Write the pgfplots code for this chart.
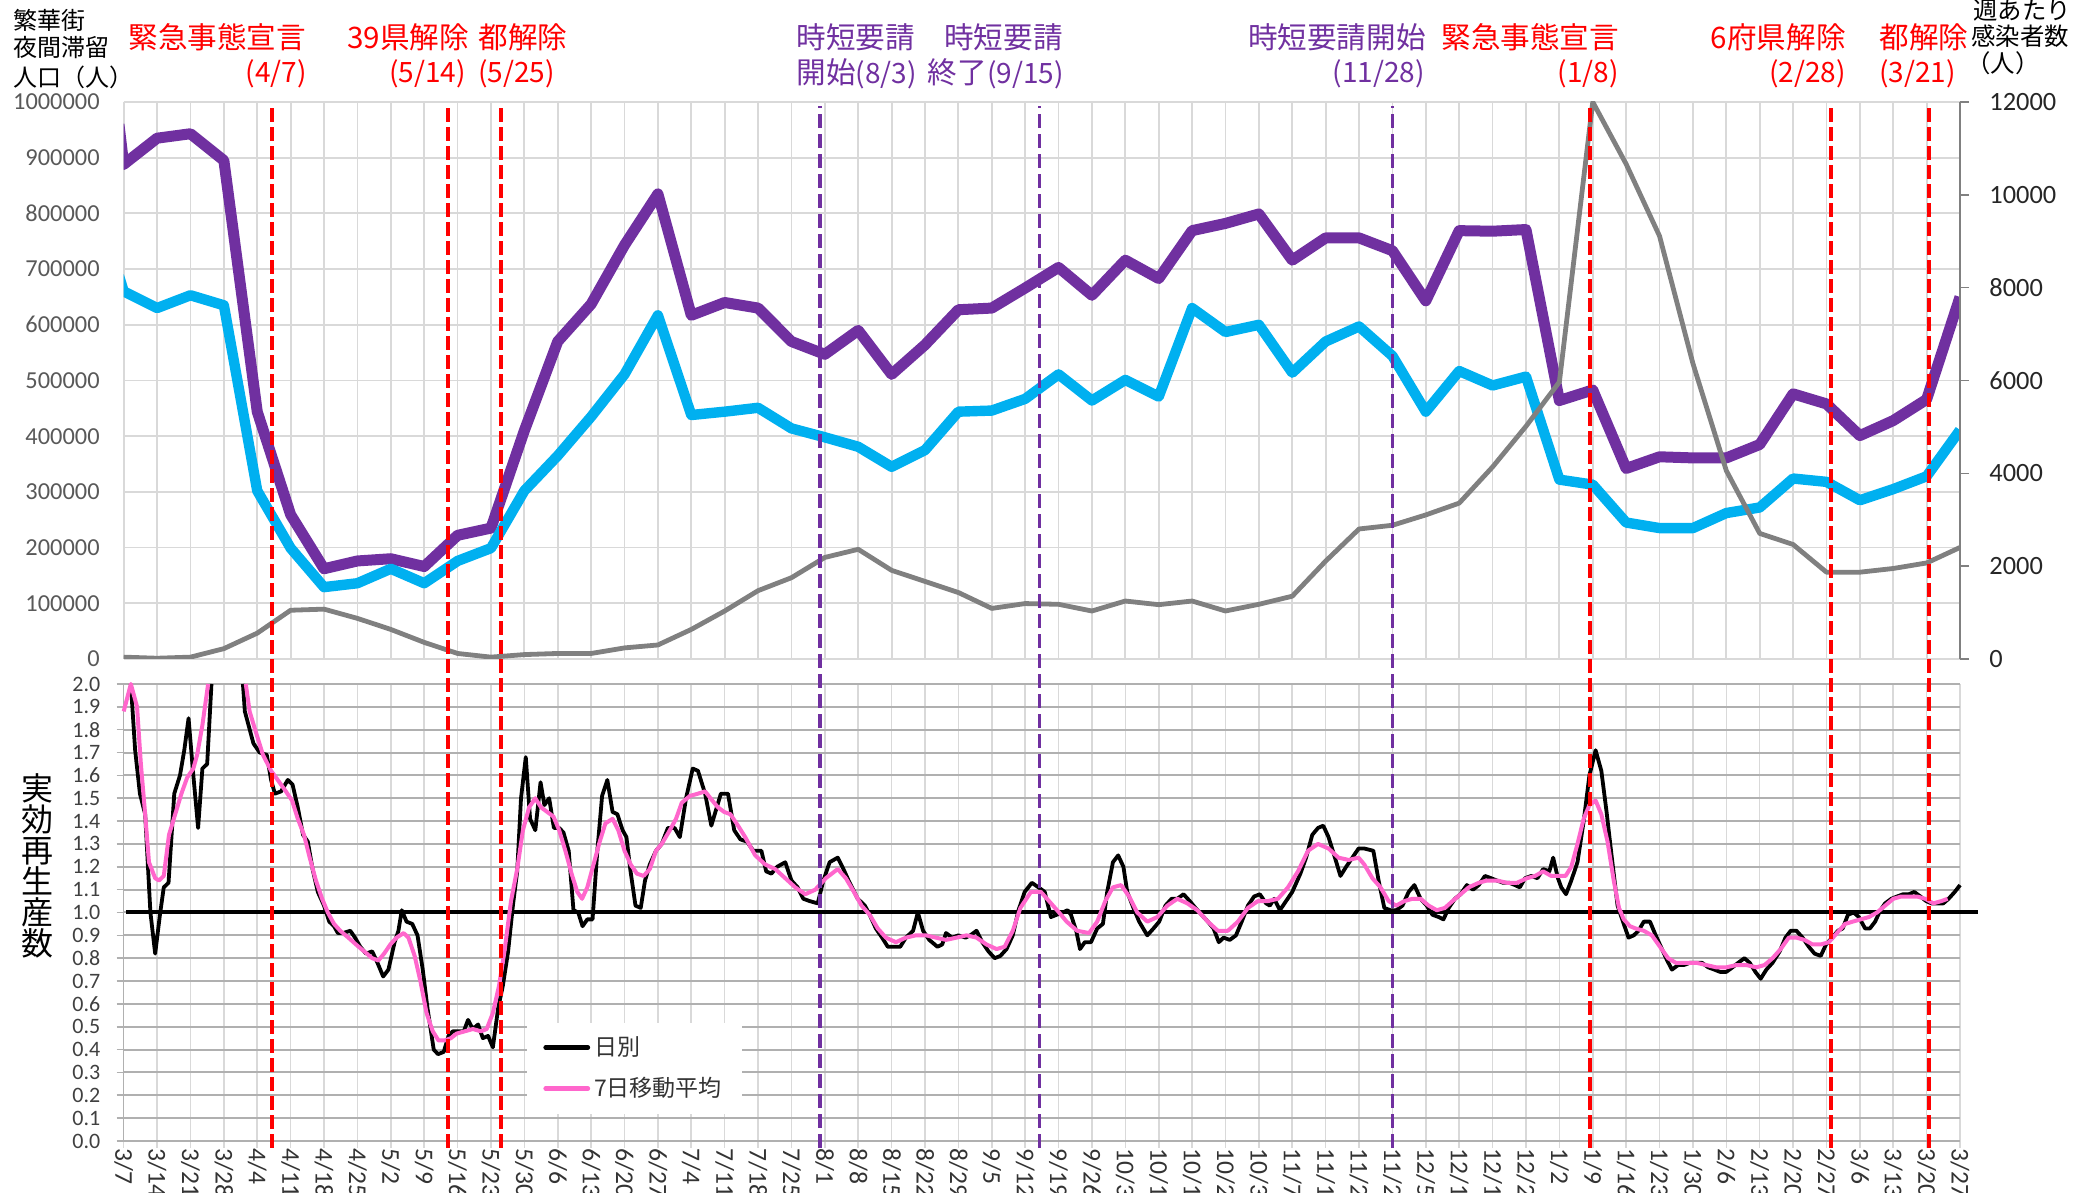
\documentclass[border=0pt]{standalone}
\usepackage{fontspec}
\setmainfont{Carlito}
\newfontfamily\jp{Noto Sans CJK JP}
\usepackage{pgfplots}
\pgfplotsset{compat=1.18}

\definecolor{cPurple}{HTML}{7030A0}
\definecolor{cCyan}{HTML}{00B0F0}
\definecolor{cGray}{HTML}{808080}
\definecolor{cPink}{HTML}{FF66CC}
\definecolor{cRed}{HTML}{FF0000}
\definecolor{gridA}{HTML}{D9D9D9}
\definecolor{gridB}{HTML}{B0B0B0}
\definecolor{lab}{HTML}{595959}
% dates in brackets are set a touch narrower
\newcommand\dt[1]{{\fontsize{14pt}{16pt}\selectfont #1}}

\begin{document}
\begin{tikzpicture}
\useasboundingbox (0,0) rectangle (1036.5pt,596.5pt);

% ---- top panel: night-time population (left axis)
\begin{axis}[
  at={(61.85pt,267pt)}, anchor=south west, scale only axis,
  width=918.15pt, height=278.5pt,
  xmin=0, xmax=385, ymin=0, ymax=1000000,
  xtick={0,7,...,385}, xticklabels={},
  ytick distance=100000, scaled y ticks=false,
  grid=major, grid style={color=gridA, line width=0.9pt},
  axis line style={draw=none}, major tick length=0pt,
  /pgf/number format/assume math mode=true,
  yticklabel style={font=\fontsize{12.2pt}{14pt}\selectfont, text=lab, inner sep=0pt,
    /pgf/number format/.cd, fixed, 1000 sep={}},
  yticklabel shift=11.8pt,
  line join=round,
]
\addplot[cPurple, line width=5.5pt] coordinates {
  (-1,960000) (0,888000) (7,935000) (14,943000) (21,895000) (28,444000) (35,259000)
  (42,162000) (49,176000) (56,180000) (63,166000) (70,222000) (77,235000) (84,410000)
  (91,570000) (98,637000) (105,743000) (112,835000) (119,617000) (126,640000) (133,630000)
  (140,570000) (147,547000) (154,590000) (161,511000) (168,564000) (175,627000) (182,630000)
  (189,666000) (196,703000) (203,653000) (210,716000) (217,683000) (224,769000) (231,782000)
  (238,799000) (245,716000) (252,756000) (259,756000) (266,733000) (273,643000) (280,769000)
  (287,768000) (294,771000) (301,464000) (308,483000) (315,342000) (322,363000) (329,361000)
  (336,361000) (343,385000) (350,476000) (357,458000) (364,401000) (371,428000) (378,466000)
  (385,650000)};
\addplot[cCyan, line width=5.2pt] coordinates {
  (-1,688000) (0,660000) (7,630000) (14,653000) (21,635000) (28,302000) (35,199000)
  (42,129000) (49,136000) (56,162000) (63,136000) (70,176000) (77,199000) (84,302000)
  (91,365000) (98,435000) (105,511000) (112,617000) (119,438000) (126,444000) (133,451000)
  (140,414000) (147,398000) (154,381000) (161,345000) (168,375000) (175,444000) (182,446000)
  (189,467000) (196,511000) (203,464000) (210,501000) (217,471000) (224,630000) (231,587000)
  (238,600000) (245,514000) (252,570000) (259,597000) (266,544000) (273,444000) (280,517000)
  (287,491000) (294,507000) (301,322000) (308,313000) (315,245000) (322,235000) (329,235000)
  (336,262000) (343,272000) (350,324000) (357,318000) (364,285000) (371,305000) (378,328000)
  (385,411000)};
\end{axis}

% ---- top panel: weekly infections (right axis)
\begin{axis}[
  at={(61.85pt,267pt)}, anchor=south west, scale only axis,
  width=918.15pt, height=278.5pt,
  xmin=0, xmax=385, ymin=0, ymax=12000,
  axis x line=none, axis y line*=right,
  ytick distance=2000, scaled y ticks=false,
  axis line style={cGray, line width=0.8pt},
  tick align=outside, major tick length=4.5pt, tick style={cGray, line width=0.8pt},
  /pgf/number format/assume math mode=true,
  yticklabel style={font=\fontsize{13.2pt}{15pt}\selectfont, text=black!85, inner sep=0pt, anchor=west,
    /pgf/number format/.cd, fixed, 1000 sep={}},
  yticklabel shift=10pt,
  line join=round,
]
\addplot[cGray, line width=2.4pt] coordinates {
  (0,40) (7,16) (14,40) (21,223) (28,557) (35,1050) (42,1074) (49,875) (56,637) (63,358)
  (70,119) (77,40) (84,95) (91,119) (98,119) (105,239) (112,302) (119,637) (126,1034)
  (133,1472) (140,1751) (147,2188) (154,2363) (161,1910) (168,1671) (175,1432) (182,1090)
  (189,1194) (196,1178) (203,1034) (210,1249) (217,1170) (224,1249) (231,1034) (238,1178)
  (245,1353) (252,2109) (259,2801) (266,2881) (273,3104) (280,3358) (287,4138) (294,5013)
  (301,5968) (308,12000) (315,10663) (322,9112) (329,6366) (336,4058) (343,2706) (350,2467)
  (357,1870) (364,1870) (371,1950) (378,2069) (385,2403)};
\end{axis}

% ---- bottom panel: effective reproduction number
\begin{axis}[
  at={(61.85pt,26pt)}, anchor=south west, scale only axis,
  width=918.15pt, height=228.5pt,
  xmin=0, xmax=385, ymin=0, ymax=2,
  clip=false, unbounded coords=jump,
  xtick={0,7,...,385},
  xticklabels={3/7,3/14,3/21,3/28,4/4,4/11,4/18,4/25,5/2,5/9,5/16,5/23,5/30,6/6,6/13,6/20,6/27,7/4,7/11,7/18,7/25,8/1,8/8,8/15,8/22,8/29,9/5,9/12,9/19,9/26,10/3,10/10,10/17,10/24,10/31,11/7,11/14,11/21,11/28,12/5,12/12,12/19,12/26,1/2,1/9,1/16,1/23,1/30,2/6,2/13,2/20,2/27,3/6,3/13,3/20,3/27},
  ytick distance=0.1,
  axis x line*=bottom, axis y line*=left,
  axis line style={color=gridB, line width=0.8pt},
  tick align=outside, major tick length=3.5pt,
  x tick style={gridA, line width=0.8pt}, y tick style={gridB, line width=0.8pt},
  grid=major,
  every axis x grid/.style={gridA, line width=0.8pt},
  every axis y grid/.style={gridB, line width=1pt},
  /pgf/number format/assume math mode=true,
  xticklabel style={rotate=-90, anchor=west, inner sep=0pt, font=\fontsize{12.8pt}{14pt}\selectfont, text=black!80},
  yticklabel style={inner sep=0pt, font=\fontsize{11pt}{13pt}\selectfont, text=black!75,
    /pgf/number format/.cd, fixed, fixed zerofill, precision=1},
  yticklabel shift=8pt,
  line join=round,
  legend style={at={(0.2196,0.26)}, anchor=north west, fill=white, draw=none,
    font=\jp\fontsize{11.5pt}{13pt}\selectfont, text=black!80,
    inner xsep=8pt, inner ysep=5pt, row sep=5.5pt},
  legend cell align=left,
  legend image code/.code={\draw[#1, line width=2.4pt, line cap=round] (0pt,0pt) -- (21pt,0pt);},
]
\addplot[black, line width=2pt, forget plot] coordinates {(0.5,1) (388.7,1)};
\addplot[black, line width=1.9pt] coordinates {
  (1.5,2.0) (2.4,1.71) (3.4,1.52) (4.5,1.43) (5.6,1.00) (6.6,0.82) (7.6,0.99) (8.4,1.11)
  (9.4,1.13) (10.6,1.52) (11.8,1.60) (12.7,1.71) (13.6,1.85) (14.6,1.60) (15.6,1.37)
  (16.5,1.63) (17.5,1.65) (18.4,2.0) (21,nan) (25.0,2.0) (25.4,1.88) (27.2,1.74) (28.5,1.70)
  (30.0,1.69) (30.9,1.58) (31.7,1.52) (33.0,1.53) (34.4,1.58) (35.4,1.56) (36.5,1.46)
  (37.6,1.34) (38.6,1.31) (39.6,1.19) (40.7,1.09) (42.0,1.03) (43.1,0.96) (44.1,0.94)
  (44.9,0.91) (46.0,0.91) (47.5,0.92) (48.5,0.89) (49.6,0.85) (50.8,0.82) (52.1,0.83)
  (53.2,0.78) (54.4,0.72) (55.5,0.75) (56.8,0.87) (57.6,0.92) (58.3,1.01) (59.3,0.96)
  (60.5,0.95) (61.6,0.90) (62.7,0.75) (63.7,0.58) (65.0,0.40) (65.9,0.38) (67.1,0.39)
  (68.1,0.46) (69.0,0.48) (70.2,0.48) (71.3,0.48) (72.2,0.53) (73.2,0.49) (74.3,0.51)
  (75.3,0.45) (76.4,0.46) (77.4,0.41) (78.5,0.58) (79.5,0.68) (80.6,0.83) (81.6,1.03)
  (82.5,1.18) (83.3,1.50) (84.3,1.68) (85.2,1.41) (86.3,1.36) (87.4,1.57) (88.2,1.47)
  (89.2,1.50) (90.2,1.37) (91.3,1.37) (92.2,1.35) (93.3,1.27) (94.3,1.01) (95.3,1.00)
  (96.2,0.94) (97.2,0.97) (98.3,0.97) (99.3,1.27) (100.3,1.51) (101.4,1.58) (102.5,1.44)
  (103.5,1.43) (104.6,1.36) (105.4,1.33) (106.2,1.19) (107.3,1.03) (108.4,1.02) (109.3,1.14)
  (110.3,1.21) (111.6,1.27) (112.8,1.30) (114.1,1.37) (115.5,1.37) (116.6,1.33) (117.9,1.50)
  (119.3,1.63) (120.4,1.62) (121.9,1.52) (123.2,1.38) (124.2,1.45) (125.2,1.52) (126.7,1.52)
  (128.0,1.36) (129.3,1.32) (130.7,1.31) (132.0,1.27) (133.7,1.27) (134.7,1.18) (135.8,1.17)
  (137.0,1.20) (138.7,1.22) (140.0,1.14) (141.3,1.11) (142.5,1.06) (143.8,1.05) (145.5,1.04)
  (146.7,1.14) (148.0,1.22) (149.7,1.24) (150.9,1.19) (152.2,1.13) (153.9,1.06) (155.4,1.03)
  (156.4,0.99) (157.7,0.93) (159.0,0.89) (160.2,0.85) (161.5,0.85) (162.8,0.85) (164.0,0.89)
  (165.5,0.92) (166.5,1.00) (167.6,0.92) (168.9,0.88) (170.6,0.85) (171.6,0.86) (172.4,0.91)
  (173.7,0.89) (175.0,0.90) (176.5,0.89) (177.5,0.90) (178.8,0.92) (180.0,0.87) (181.3,0.83)
  (182.6,0.80) (183.8,0.81) (185.1,0.84) (186.4,0.90) (187.6,1.01) (188.9,1.09) (190.4,1.13)
  (191.8,1.11) (193.1,1.09) (194.4,0.98) (195.6,0.99) (196.9,1.00) (197.9,1.01) (198.6,0.99)
  (199.7,0.92) (200.5,0.84) (201.5,0.87) (202.8,0.87) (204.1,0.93) (205.3,0.95) (206.2,1.09)
  (207.4,1.22) (208.5,1.25) (209.6,1.20) (210.4,1.09) (211.7,1.02) (212.9,0.96) (214.6,0.90)
  (215.9,0.93) (217.1,0.96) (218.4,1.03) (219.7,1.06) (220.9,1.06) (222.2,1.08) (223.5,1.05)
  (224.7,1.02) (226.0,0.99) (227.3,0.96) (228.5,0.93) (229.6,0.87) (230.6,0.89) (231.9,0.88)
  (233.2,0.90) (234.4,0.96) (235.7,1.03) (237.0,1.07) (238.2,1.08) (239.5,1.04) (240.3,1.03)
  (241.2,1.06) (242.4,1.01) (243.7,1.05) (245.0,1.09) (246.7,1.17) (247.9,1.24) (249.2,1.34)
  (250.4,1.37) (251.5,1.38) (252.6,1.33) (253.8,1.25) (255.1,1.16) (256.3,1.20) (257.6,1.24)
  (258.9,1.28) (260.1,1.28) (262.0,1.27) (263.1,1.14) (264.3,1.02) (265.6,1.01) (266.8,1.01)
  (268.1,1.03) (269.4,1.09) (270.6,1.12) (271.9,1.06) (273.2,1.03) (274.4,0.99) (275.7,0.98)
  (276.7,0.97) (277.8,1.02) (279.1,1.06) (280.3,1.08) (281.6,1.12) (282.9,1.10) (284.1,1.12)
  (285.4,1.16) (286.7,1.15) (287.9,1.14) (289.2,1.13) (290.5,1.13) (291.7,1.12) (292.7,1.11)
  (293.8,1.15) (295.1,1.16) (296.4,1.15) (297.6,1.19) (298.9,1.18) (299.7,1.24) (300.7,1.15)
  (301.4,1.11) (302.4,1.08) (303.5,1.14) (304.8,1.22) (306.1,1.40) (307.3,1.60) (308.6,1.71)
  (309.8,1.62) (310.9,1.44) (312.0,1.24) (313.2,1.03) (314.5,0.95) (315.5,0.89) (316.6,0.90)
  (317.6,0.92) (318.7,0.96) (320.0,0.96) (321.2,0.90) (322.5,0.84) (323.6,0.79) (324.6,0.75)
  (325.9,0.77) (327.1,0.77) (328.4,0.78) (329.7,0.78) (330.9,0.78) (332.2,0.76) (333.5,0.75)
  (334.7,0.74) (336.0,0.74) (337.3,0.76) (338.5,0.78) (339.8,0.80) (340.9,0.78) (342.1,0.74)
  (343.2,0.71) (344.4,0.75) (345.7,0.78) (347.2,0.83) (348.4,0.89) (349.5,0.92) (350.7,0.92)
  (352.0,0.89) (353.3,0.85) (354.5,0.82) (355.8,0.81) (356.9,0.86) (358.2,0.89) (359.4,0.92)
  (360.4,0.93) (361.5,0.99) (362.7,1.00) (363.8,0.98) (365.1,0.93) (366.1,0.93) (367.2,0.96)
  (368.3,1.01) (369.3,1.04) (370.6,1.06) (371.8,1.07) (373.1,1.08) (374.3,1.08) (375.4,1.09)
  (376.7,1.07) (377.9,1.05) (379.0,1.04) (380.3,1.04) (381.5,1.04) (382.6,1.06) (383.9,1.09)
  (385.0,1.12)};
\addlegendentry{日別}
\addplot[cPink, line width=2pt] coordinates {
  (0,1.88) (1.5,2.0) (2.8,1.90) (3.6,1.65) (4.5,1.43) (5.3,1.22) (6.6,1.15) (7.4,1.14)
  (8.4,1.16) (9.5,1.34) (10.8,1.43) (12.1,1.52) (13.3,1.59) (14.6,1.63) (15.4,1.69)
  (16.5,1.82) (17.7,2.0) (21,nan) (25.6,2.0) (26.4,1.88) (27.7,1.79) (29.2,1.69) (30.9,1.62)
  (32.3,1.58) (34.0,1.53) (35.3,1.49) (36.5,1.41) (37.8,1.34) (39.0,1.24) (40.3,1.14)
  (41.6,1.06) (42.8,1.00) (44.1,0.95) (45.4,0.92) (47.1,0.89) (48.7,0.86) (50.4,0.83)
  (52.1,0.80) (53.4,0.79) (54.6,0.82) (55.9,0.86) (57.2,0.89) (58.7,0.91) (59.7,0.89)
  (61.0,0.81) (62.2,0.70) (63.5,0.56) (64.8,0.48) (66.0,0.44) (67.3,0.44) (68.6,0.45)
  (69.8,0.47) (71.5,0.48) (73.2,0.49) (74.9,0.48) (76.1,0.49) (77.4,0.56) (78.7,0.68)
  (79.9,0.84) (81.2,1.05) (82.5,1.19) (83.7,1.36) (85.0,1.46) (86.3,1.50) (87.5,1.46)
  (88.8,1.44) (90.1,1.42) (91.3,1.36) (92.6,1.27) (93.9,1.17) (95.1,1.09) (96.1,1.06)
  (97.2,1.11) (98.5,1.21) (99.8,1.31) (101.0,1.39) (102.5,1.41) (103.7,1.36) (105.0,1.27)
  (106.3,1.21) (107.6,1.17) (109.0,1.16) (110.3,1.19) (111.6,1.27) (112.8,1.30) (114.5,1.36)
  (115.8,1.41) (117.0,1.48) (118.7,1.51) (120.4,1.52) (121.9,1.53) (123.4,1.49) (124.6,1.46)
  (125.9,1.44) (127.2,1.43) (128.8,1.38) (130.3,1.33) (132.4,1.25) (134.5,1.21) (136.6,1.19)
  (138.7,1.15) (140.8,1.11) (142.9,1.08) (145.0,1.10) (147.2,1.15) (149.7,1.19) (151.4,1.15)
  (153.1,1.09) (154.7,1.03) (156.4,0.99) (158.1,0.93) (159.8,0.89) (161.9,0.87) (164.0,0.89)
  (166.1,0.90) (168.2,0.90) (170.3,0.89) (172.4,0.88) (174.6,0.89) (176.7,0.90) (178.8,0.89)
  (180.9,0.86) (183.0,0.84) (184.7,0.85) (186.4,0.92) (188.0,1.02) (190.2,1.09) (192.3,1.09)
  (194.0,1.05) (196.1,1.00) (197.7,0.96) (199.9,0.92) (202.4,0.91) (204.1,0.96) (205.8,1.05)
  (207.4,1.11) (209.1,1.12) (210.8,1.07) (212.5,1.00) (214.6,0.96) (216.7,0.98) (218.8,1.03)
  (220.9,1.06) (223.0,1.04) (225.1,1.01) (227.3,0.96) (229.4,0.92) (231.5,0.92) (233.6,0.96)
  (235.7,1.02) (237.8,1.05) (239.9,1.05) (242.0,1.06) (244.1,1.11) (246.2,1.18) (248.3,1.27)
  (250.4,1.30) (252.6,1.28) (254.7,1.24) (256.8,1.23) (258.9,1.24) (260.1,1.21) (261.8,1.15)
  (263.5,1.11) (265.2,1.05) (266.8,1.03) (268.5,1.05) (270.2,1.06) (271.9,1.06) (273.6,1.03)
  (275.3,1.01) (277.0,1.02) (278.6,1.05) (280.3,1.08) (282.0,1.11) (284.1,1.13) (285.8,1.14)
  (287.9,1.14) (290.0,1.13) (292.1,1.13) (294.2,1.15) (295.9,1.16) (297.6,1.18) (299.3,1.16)
  (301.0,1.16) (302.3,1.16) (303.5,1.20) (304.8,1.30) (306.1,1.41) (307.3,1.47) (308.6,1.49)
  (309.8,1.43) (311.1,1.31) (312.4,1.14) (313.5,1.02) (314.5,0.97) (315.8,0.94) (317.0,0.93)
  (318.7,0.92) (320.4,0.90) (322.1,0.85) (323.8,0.80) (325.4,0.78) (327.6,0.78) (329.7,0.78)
  (331.8,0.77) (333.9,0.76) (336.0,0.76) (338.1,0.77) (340.2,0.77) (342.3,0.76) (344.0,0.77)
  (345.7,0.80) (347.4,0.84) (349.1,0.89) (350.7,0.89) (352.4,0.88) (354.1,0.86) (355.8,0.86)
  (357.5,0.87) (359.2,0.91) (360.9,0.95) (362.5,0.96) (364.2,0.97) (365.9,0.98) (367.6,1.00)
  (369.3,1.03) (371.0,1.06) (372.7,1.07) (374.4,1.07) (376.0,1.07) (377.7,1.06) (379.4,1.04)
  (381.1,1.05) (382.4,1.06)};
\addlegendentry{7日移動平均}
% event lines, spanning both panels
\addplot[cRed, line width=2pt, dash pattern=on 7pt off 2.5pt, forget plot] coordinates {(31,-0.03) (31,4.53)};
\addplot[cRed, line width=2pt, dash pattern=on 7pt off 2.5pt, forget plot] coordinates {(68,-0.03) (68,4.53)};
\addplot[cRed, line width=2pt, dash pattern=on 7pt off 2.5pt, forget plot] coordinates {(79,-0.03) (79,4.53)};
\addplot[cPurple, line width=1.6pt, dash pattern=on 7pt off 3pt, forget plot] coordinates {(146,-0.03) (146,4.53)};
\addplot[cPurple, line width=1.6pt, dash pattern=on 7pt off 3pt, forget plot] coordinates {(192,-0.03) (192,4.53)};
\addplot[cPurple, line width=1.6pt, dash pattern=on 7pt off 3pt, forget plot] coordinates {(266,-0.03) (266,4.53)};
\addplot[cRed, line width=2pt, dash pattern=on 7pt off 2.5pt, forget plot] coordinates {(307.5,-0.03) (307.5,4.53)};
\addplot[cRed, line width=2pt, dash pattern=on 7pt off 2.5pt, forget plot] coordinates {(358,-0.03) (358,4.53)};
\addplot[cRed, line width=2pt, dash pattern=on 7pt off 2.5pt, forget plot] coordinates {(378.5,-0.03) (378.5,4.53)};
\end{axis}

% ---- titles and event annotations
\begin{scope}[every node/.style={inner sep=0pt}]
\node[anchor=west, font=\jp\fontsize{12pt}{14pt}\selectfont] at (6.5pt,586.5pt) {繁華街};
\node[anchor=west, font=\jp\fontsize{12pt}{14pt}\selectfont] at (6.5pt,572.5pt) {夜間滞留};
\node[anchor=west, font=\jp\fontsize{12pt}{14pt}\selectfont] at (6.5pt,558pt) {人口（人）};
\node[anchor=west, font=\jp\fontsize{12.2pt}{14pt}\selectfont] at (986.5pt,591.5pt) {週あたり};
\node[anchor=west, font=\jp\fontsize{12.2pt}{14pt}\selectfont] at (985.5pt,578.5pt) {感染者数};
\node[anchor=west, font=\jp\fontsize{12.2pt}{14pt}\selectfont] at (983pt,565pt) {（人）};
\node[align=center, font=\jp\fontsize{16pt}{15.5pt}\selectfont] at (18.5pt,163.5pt) {実\\効\\再\\生\\産\\数};

\begin{scope}[every node/.append style={font=\jp\fontsize{14.8pt}{16pt}\selectfont, text=cRed}]
\node[anchor=west] at (64pt,578pt) {緊急事態宣言};
\node[anchor=east] at (153.5pt,559.5pt) {\dt{(4/7)}};
\node[anchor=west] at (173.5pt,578pt) {39県解除};
\node[anchor=east] at (233pt,559.5pt) {\dt{(5/14)}};
\node[anchor=west] at (239pt,578pt) {都解除};
\node[anchor=west] at (239pt,559.5pt) {\dt{(5/25)}};
\node[anchor=west] at (720.5pt,578pt) {緊急事態宣言};
\node[anchor=east] at (809.5pt,559.5pt) {\dt{(1/8)}};
\node[anchor=east] at (923pt,578pt) {6府県解除};
\node[anchor=east] at (923pt,559.5pt) {\dt{(2/28)}};
\node[anchor=west] at (939.5pt,578pt) {都解除};
\node[anchor=west] at (939.5pt,559.5pt) {\dt{(3/21)}};
\end{scope}
\begin{scope}[every node/.append style={font=\jp\fontsize{14.8pt}{16pt}\selectfont, text=cPurple}]
\node[anchor=west] at (398pt,578pt) {時短要請};
\node[anchor=west] at (398pt,559.5pt) {開始\dt{(8/3)}};
\node[anchor=east] at (531.5pt,578pt) {時短要請};
\node[anchor=east] at (532pt,559.5pt) {終了\dt{(9/15)}};
\node[anchor=east] at (713pt,578pt) {時短要請開始};
\node[anchor=east] at (712.5pt,559.5pt) {\dt{(11/28)}};
\end{scope}
\end{scope}
\end{tikzpicture}
\end{document}
